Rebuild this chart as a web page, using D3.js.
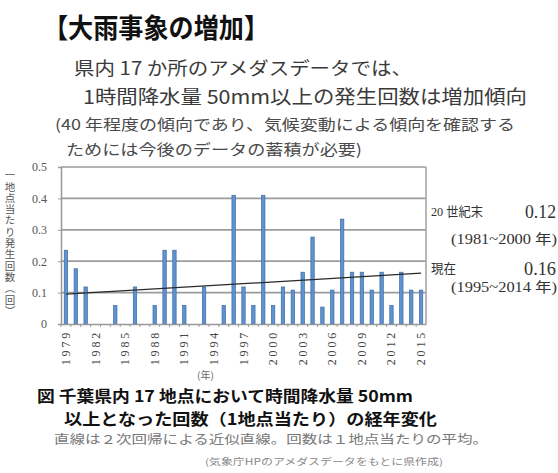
<!DOCTYPE html>
<html>
<head>
<meta charset="utf-8">
<script src="https://cdn.jsdelivr.net/npm/d3@7"></script>
<style>
  body { margin: 0; background: #fff; }
  svg { display: block; }
  .jp { font-family: "Noto Sans CJK JP", sans-serif; }
  .vtitle { writing-mode: vertical-rl; text-orientation: upright; }
</style>
</head>
<body>
<div class="chart"></div>
<script>
// DATA
const years = [1979, 1980, 1981, 1982, 1983, 1984, 1985, 1986, 1987, 1988,
               1989, 1990, 1991, 1992, 1993, 1994, 1995, 1996, 1997, 1998,
               1999, 2000, 2001, 2002, 2003, 2004, 2005, 2006, 2007, 2008,
               2009, 2010, 2011, 2012, 2013, 2014, 2015];
const counts = [0.235, 0.176, 0.118, 0, 0, 0.059, 0, 0.118, 0, 0.059,
                0.235, 0.235, 0.059, 0, 0.118, 0, 0.059, 0.41, 0.118, 0.059,
                0.41, 0.059, 0.118, 0.108, 0.165, 0.277, 0.054, 0.108, 0.334, 0.165,
                0.165, 0.108, 0.165, 0.059, 0.165, 0.108, 0.108];
const trendYears = [1979, 2015];
const trendValues = [0.095, 0.162];
const yTicks = [0, 0.1, 0.2, 0.3, 0.4, 0.5];
const xTickYears = [1979, 1982, 1985, 1988, 1991, 1994, 1997, 2000, 2003, 2006, 2009, 2012, 2015];
const yTitle = "一地点当たり発生回数（回）";

const W = 558, H = 473;
const margin = {top: 167, right: 132, bottom: 149, left: 61};
const width = W - margin.left - margin.right;
const height = H - margin.top - margin.bottom;

const svg = d3.select(".chart").append("svg")
    .attr("width", W).attr("height", H);

// HEADER / FOOTER TEXT
const header = [
  {t: "【大雨事象の増加】", x: 43, y: 38, size: 27, len: 226, w: 700, c: "#111"},
  {t: "県内 17 か所のアメダスデータでは、", x: 74, y: 75, size: 18, len: 338, w: 400, c: "#3a3a3a"},
  {t: "1時間降水量 50mm以上の発生回数は増加傾向", x: 83, y: 104, size: 19, len: 444, w: 400, c: "#3a3a3a"},
  {t: "(40 年程度の傾向であり、気候変動による傾向を確認する", x: 55, y: 130, size: 15, len: 460, w: 400, c: "#4a4a4a"},
  {t: "ためには今後のデータの蓄積が必要)", x: 66, y: 155, size: 15, len: 296, w: 400, c: "#4a4a4a"}
];
const footer = [
  {t: "図 千葉県内 17 地点において時間降水量 50mm", x: 37, y: 402, size: 15.5, len: 376, w: 700, c: "#111"},
  {t: "以上となった回数（1地点当たり）の経年変化", x: 64, y: 425, size: 16, len: 373, w: 700, c: "#111"},
  {t: "直線は２次回帰による近似直線。回数は１地点当たりの平均。", x: 54, y: 444, size: 12, len: 434, w: 400, c: "#777"},
  {t: "(気象庁HPのアメダスデータをもとに県作成)", x: 205, y: 465, size: 9, len: 238, w: 400, c: "#888"}
];
svg.selectAll(".txt")
    .data(header.concat(footer))
    .enter().append("text")
    .attr("class", "jp")
    .attr("x", d => d.x).attr("y", d => d.y)
    .attr("font-size", d => d.size)
    .attr("font-weight", d => d.w)
    .attr("fill", d => d.c)
    .attr("textLength", d => d.len)
    .attr("lengthAdjust", "spacingAndGlyphs")
    .text(d => d.t);

// CHART
const g = svg.append("g")
    .attr("transform", `translate(${margin.left},${margin.top})`);

const xScale = d3.scaleBand().domain(years).range([0, width]);
const yScale = d3.scaleLinear().domain([0, 0.5]).range([height, 0]);

// gridlines
g.selectAll(".grid")
    .data(yTicks.filter(d => d > 0))
    .enter().append("line")
    .attr("x1", 0).attr("x2", width)
    .attr("y1", d => yScale(d)).attr("y2", d => yScale(d))
    .attr("stroke", "#9c9c9c").attr("stroke-width", 1.7);

// y axis
const yAxis = d3.axisLeft(yScale).tickValues(yTicks).tickSize(3)
    .tickFormat(d => d === 0 ? "0" : d3.format(".1f")(d));
const ya = g.append("g").attr("class", "axis y-axis").call(yAxis);
ya.select(".domain").attr("stroke", "#999").attr("stroke-width", 1.5);
ya.selectAll(".tick line").attr("stroke", "#999");
ya.selectAll(".tick text")
    .attr("x", -14)
    .attr("font-family", "Liberation Serif")
    .attr("font-size", 12)
    .attr("fill", "#555");

// right border
g.append("line")
    .attr("x1", width).attr("x2", width)
    .attr("y1", 0).attr("y2", height)
    .attr("stroke", "#a0a0a0").attr("stroke-width", 1.5);

// bars
g.selectAll(".bar")
    .data(counts)
    .enter().append("rect")
    .attr("class", "bar")
    .attr("x", (d, i) => xScale(years[i]) + xScale.bandwidth() / 2 - 1.7)
    .attr("y", d => yScale(d))
    .attr("width", 3.4)
    .attr("height", d => height - yScale(d))
    .attr("fill", "#5e93d0")
    .attr("stroke", "#3d6aa5")
    .attr("stroke-width", 0.7);

// x axis
const xAxis = d3.axisBottom(xScale).tickSize(0).tickFormat("");
const xa = g.append("g").attr("class", "axis x-axis")
    .attr("transform", `translate(0,${height})`).call(xAxis);
xa.select(".domain").attr("stroke", "#999").attr("stroke-width", 1.5);
xa.selectAll(".yt")
    .data(years)
    .enter().append("line")
    .attr("x1", d => xScale(d)).attr("x2", d => xScale(d))
    .attr("y1", 0).attr("y2", 3)
    .attr("stroke", "#999");
xa.selectAll(".xl")
    .data(xTickYears)
    .enter().append("text")
    .attr("transform", d => `translate(${xScale(d) + xScale.bandwidth() / 2 + 4},${6}) rotate(-90)`)
    .attr("text-anchor", "end")
    .attr("font-family", "Liberation Serif")
    .attr("font-size", 12)
    .attr("letter-spacing", 2.8)
    .attr("fill", "#444")
    .text(d => d);

g.append("text")
    .attr("class", "jp")
    .attr("x", xScale(1993) - 2)
    .attr("y", height + 55)
    .attr("font-size", 10)
    .attr("fill", "#666")
    .text("(年)");

// trend line
const line = d3.line()
    .x(d => xScale(d[0]) + xScale.bandwidth() / 2)
    .y(d => yScale(d[1]));
g.append("path")
    .datum(trendYears.map((y, i) => [y, trendValues[i]]))
    .attr("d", line)
    .attr("fill", "none")
    .attr("stroke", "#2a2a2a")
    .attr("stroke-width", 1.3);

// y axis title (vertical writing)
svg.append("text")
    .attr("class", "jp vtitle")
    .attr("x", 10).attr("y", 170)
    .attr("font-size", 10.5)
    .attr("letter-spacing", 0.8)
    .attr("fill", "#555")
    .text(yTitle);

// right side notes
const notes = [
  {t: "20 世紀末", x: 431, y: 216, size: 13, len: 52},
  {t: "0.12", x: 525, y: 218, size: 19, len: 31},
  {t: "(1981~2000 年)", x: 451, y: 244, size: 14, len: 106},
  {t: "現在", x: 431, y: 273, size: 13, len: 25},
  {t: "0.16", x: 524, y: 275, size: 19, len: 32},
  {t: "(1995~2014 年)", x: 451, y: 292, size: 14, len: 106}
];
svg.selectAll(".note")
    .data(notes)
    .enter().append("text")
    .attr("x", d => d.x).attr("y", d => d.y)
    .attr("font-family", "Liberation Serif, Noto Sans CJK JP")
    .attr("font-size", d => d.size)
    .attr("fill", "#333")
    .attr("textLength", d => d.len)
    .attr("lengthAdjust", "spacingAndGlyphs")
    .text(d => d.t);
</script>
</body>
</html>
